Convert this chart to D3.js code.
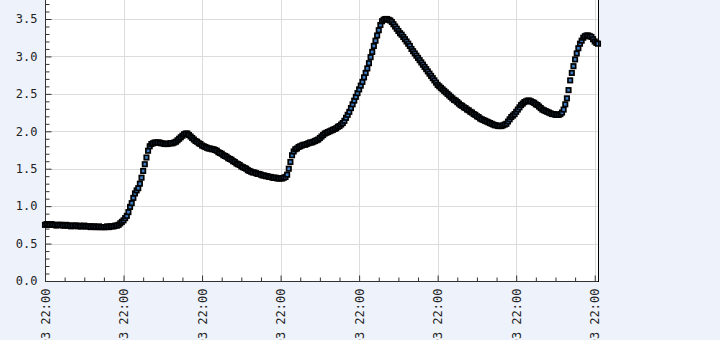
<!DOCTYPE html>
<html>
<head>
<meta charset="utf-8">
<script src="https://cdn.jsdelivr.net/npm/d3@7"></script>
<style>
  html, body { margin: 0; padding: 0; background: #eef2fb; }
  svg { display: block; }
  .tick text { font-family: "DejaVu Sans Mono", monospace; font-size: 12px; fill: #222; }
</style>
</head>
<body>
<svg id="chart" width="720" height="340"></svg>
<script>
// Data: one reading every half step, 339 samples
const values = [
  0.75,0.76,0.75,0.75,0.76,0.75,0.75,0.74,0.75,0.75,
  0.75,0.74,0.74,0.75,0.74,0.74,0.73,0.74,0.74,0.74,
  0.73,0.74,0.73,0.73,0.74,0.73,0.73,0.73,0.72,0.73,
  0.73,0.72,0.72,0.73,0.72,0.72,0.72,0.72,0.73,0.72,
  0.73,0.73,0.73,0.74,0.74,0.75,0.77,0.79,0.81,0.84,
  0.87,0.92,0.99,1.04,1.11,1.17,1.21,1.24,1.30,1.38,
  1.47,1.56,1.65,1.74,1.80,1.83,1.84,1.85,1.85,1.85,
  1.85,1.84,1.84,1.83,1.83,1.83,1.84,1.84,1.84,1.85,
  1.86,1.88,1.90,1.92,1.94,1.96,1.97,1.97,1.95,1.93,
  1.91,1.89,1.87,1.86,1.84,1.83,1.81,1.80,1.79,1.78,
  1.77,1.77,1.76,1.76,1.75,1.74,1.72,1.71,1.70,1.68,
  1.67,1.66,1.64,1.63,1.62,1.60,1.59,1.57,1.56,1.55,
  1.53,1.52,1.51,1.50,1.48,1.47,1.46,1.45,1.45,1.44,
  1.43,1.43,1.42,1.41,1.41,1.40,1.40,1.39,1.39,1.38,
  1.38,1.38,1.37,1.37,1.37,1.37,1.38,1.39,1.42,1.50,
  1.59,1.68,1.73,1.76,1.77,1.79,1.80,1.81,1.82,1.82,
  1.83,1.84,1.85,1.85,1.86,1.87,1.88,1.89,1.91,1.93,
  1.95,1.97,1.98,1.99,2.00,2.01,2.02,2.03,2.04,2.06,
  2.07,2.09,2.11,2.14,2.18,2.22,2.26,2.31,2.36,2.41,
  2.46,2.51,2.56,2.61,2.66,2.72,2.78,2.84,2.91,2.99,
  3.06,3.14,3.21,3.28,3.35,3.42,3.47,3.49,3.50,3.50,
  3.49,3.48,3.46,3.43,3.40,3.37,3.34,3.31,3.29,3.26,
  3.23,3.20,3.17,3.14,3.10,3.07,3.04,3.01,2.98,2.95,
  2.92,2.89,2.86,2.83,2.80,2.77,2.74,2.71,2.68,2.65,
  2.62,2.60,2.58,2.56,2.54,2.52,2.50,2.48,2.46,2.44,
  2.42,2.41,2.39,2.37,2.35,2.34,2.32,2.31,2.29,2.28,
  2.26,2.25,2.23,2.22,2.20,2.19,2.17,2.16,2.15,2.14,
  2.13,2.12,2.11,2.10,2.09,2.08,2.08,2.07,2.07,2.07,
  2.08,2.09,2.10,2.13,2.16,2.19,2.21,2.23,2.26,2.29,
  2.32,2.35,2.37,2.39,2.40,2.41,2.41,2.40,2.39,2.38,
  2.36,2.35,2.33,2.31,2.29,2.28,2.27,2.26,2.25,2.24,
  2.23,2.23,2.22,2.22,2.22,2.23,2.25,2.29,2.36,2.44,
  2.55,2.68,2.78,2.87,2.96,3.04,3.11,3.17,3.21,3.25,
  3.27,3.28,3.28,3.27,3.26,3.23,3.20,3.18,3.17
];

// x ticks every 48 samples
const xTickIdx = [0, 48, 96, 144, 192, 240, 288, 336];
const xTickLabels = ["04-03 22:00", "05-03 22:00", "06-03 22:00", "07-03 22:00",
                     "08-03 22:00", "09-03 22:00", "10-03 22:00", "11-03 22:00"];
const yTicks = [0, 0.5, 1.0, 1.5, 2.0, 2.5, 3.0, 3.5];

const svg = d3.select("#chart");
const plotLeft = 45, plotRight = 598, plotBottom = 281, plotTop = 0;

const x = d3.scaleLinear().domain([0, values.length - 1]).range([plotLeft, plotRight]);
const y = d3.scaleLinear().domain([0, 3.5]).range([plotBottom, 19]);

// plot area
svg.append("rect")
    .attr("x", plotLeft).attr("y", plotTop)
    .attr("width", plotRight - plotLeft).attr("height", plotBottom - plotTop)
    .attr("fill", "#fff");

// grid
const grid = svg.append("g").attr("stroke", "#dcdcdc").attr("stroke-width", 1);
yTicks.filter(d => d > 0).forEach(d => {
    grid.append("line")
        .attr("x1", plotLeft).attr("x2", plotRight)
        .attr("y1", Math.round(y(d)) + 0.5).attr("y2", Math.round(y(d)) + 0.5);
});
xTickIdx.filter(d => d > 0).forEach(d => {
    grid.append("line")
        .attr("x1", Math.round(x(d)) + 0.5).attr("x2", Math.round(x(d)) + 0.5)
        .attr("y1", plotTop).attr("y2", plotBottom);
});

// minor ticks
const yMinor = d3.range(0, 38).map(d => d / 10).filter(d => Math.abs(d * 2 - Math.round(d * 2)) > 1e-6);
const xMinor = d3.range(0, values.length, 12).filter(d => d % 48 !== 0);

svg.append("g")
    .attr("transform", `translate(${plotLeft + 0.5},0)`)
    .call(d3.axisLeft(y).tickValues(yMinor).tickSize(-4).tickFormat(""))
    .call(g => g.select(".domain").remove())
    .selectAll("line").attr("stroke", "#333");

svg.append("g")
    .attr("transform", `translate(0,${plotBottom + 0.5})`)
    .call(d3.axisBottom(x).tickValues(xMinor).tickSize(-4).tickFormat(""))
    .call(g => g.select(".domain").remove())
    .selectAll("line").attr("stroke", "#333");

// major y axis
svg.append("g")
    .attr("transform", `translate(${plotLeft + 0.5},0)`)
    .call(d3.axisLeft(y).tickValues(yTicks).tickSize(-6).tickPadding(8).tickFormat(d3.format(".1f")))
    .call(g => g.select(".domain").remove())
    .call(g => g.selectAll("line").attr("stroke", "#333"));

// major x axis, rotated labels
svg.append("g")
    .attr("transform", `translate(0,${plotBottom + 0.5})`)
    .call(d3.axisBottom(x).tickValues(xTickIdx).tickSize(-6).tickFormat((d, i) => xTickLabels[i]))
    .call(g => g.select(".domain").remove())
    .call(g => g.selectAll("line").attr("stroke", "#333"))
    .call(g => g.selectAll("text")
        .attr("transform", "rotate(-90)")
        .attr("x", -7).attr("y", 0).attr("dy", "0.35em")
        .attr("text-anchor", "end"));

// axis lines
svg.append("line")
    .attr("x1", plotLeft + 0.5).attr("x2", plotLeft + 0.5).attr("y1", plotTop).attr("y2", plotBottom + 1)
    .attr("stroke", "#333");
svg.append("line")
    .attr("x1", plotLeft).attr("x2", plotRight + 1).attr("y1", plotBottom + 0.5).attr("y2", plotBottom + 0.5)
    .attr("stroke", "#333");

// points: small blue squares with heavy black outline
const sz = 4.4;
svg.append("g")
    .selectAll("rect")
    .data(values)
    .join("rect")
    .attr("x", (d, i) => x(i) - sz / 2)
    .attr("y", d => y(d) - sz / 2)
    .attr("width", sz).attr("height", sz)
    .attr("fill", "#3b7dc4")
    .attr("stroke", "#000")
    .attr("stroke-width", 1.7);

// right border
svg.append("line")
    .attr("x1", plotRight + 0.5).attr("x2", plotRight + 0.5).attr("y1", plotTop).attr("y2", plotBottom + 1)
    .attr("stroke", "#000");
</script>
</body>
</html>
